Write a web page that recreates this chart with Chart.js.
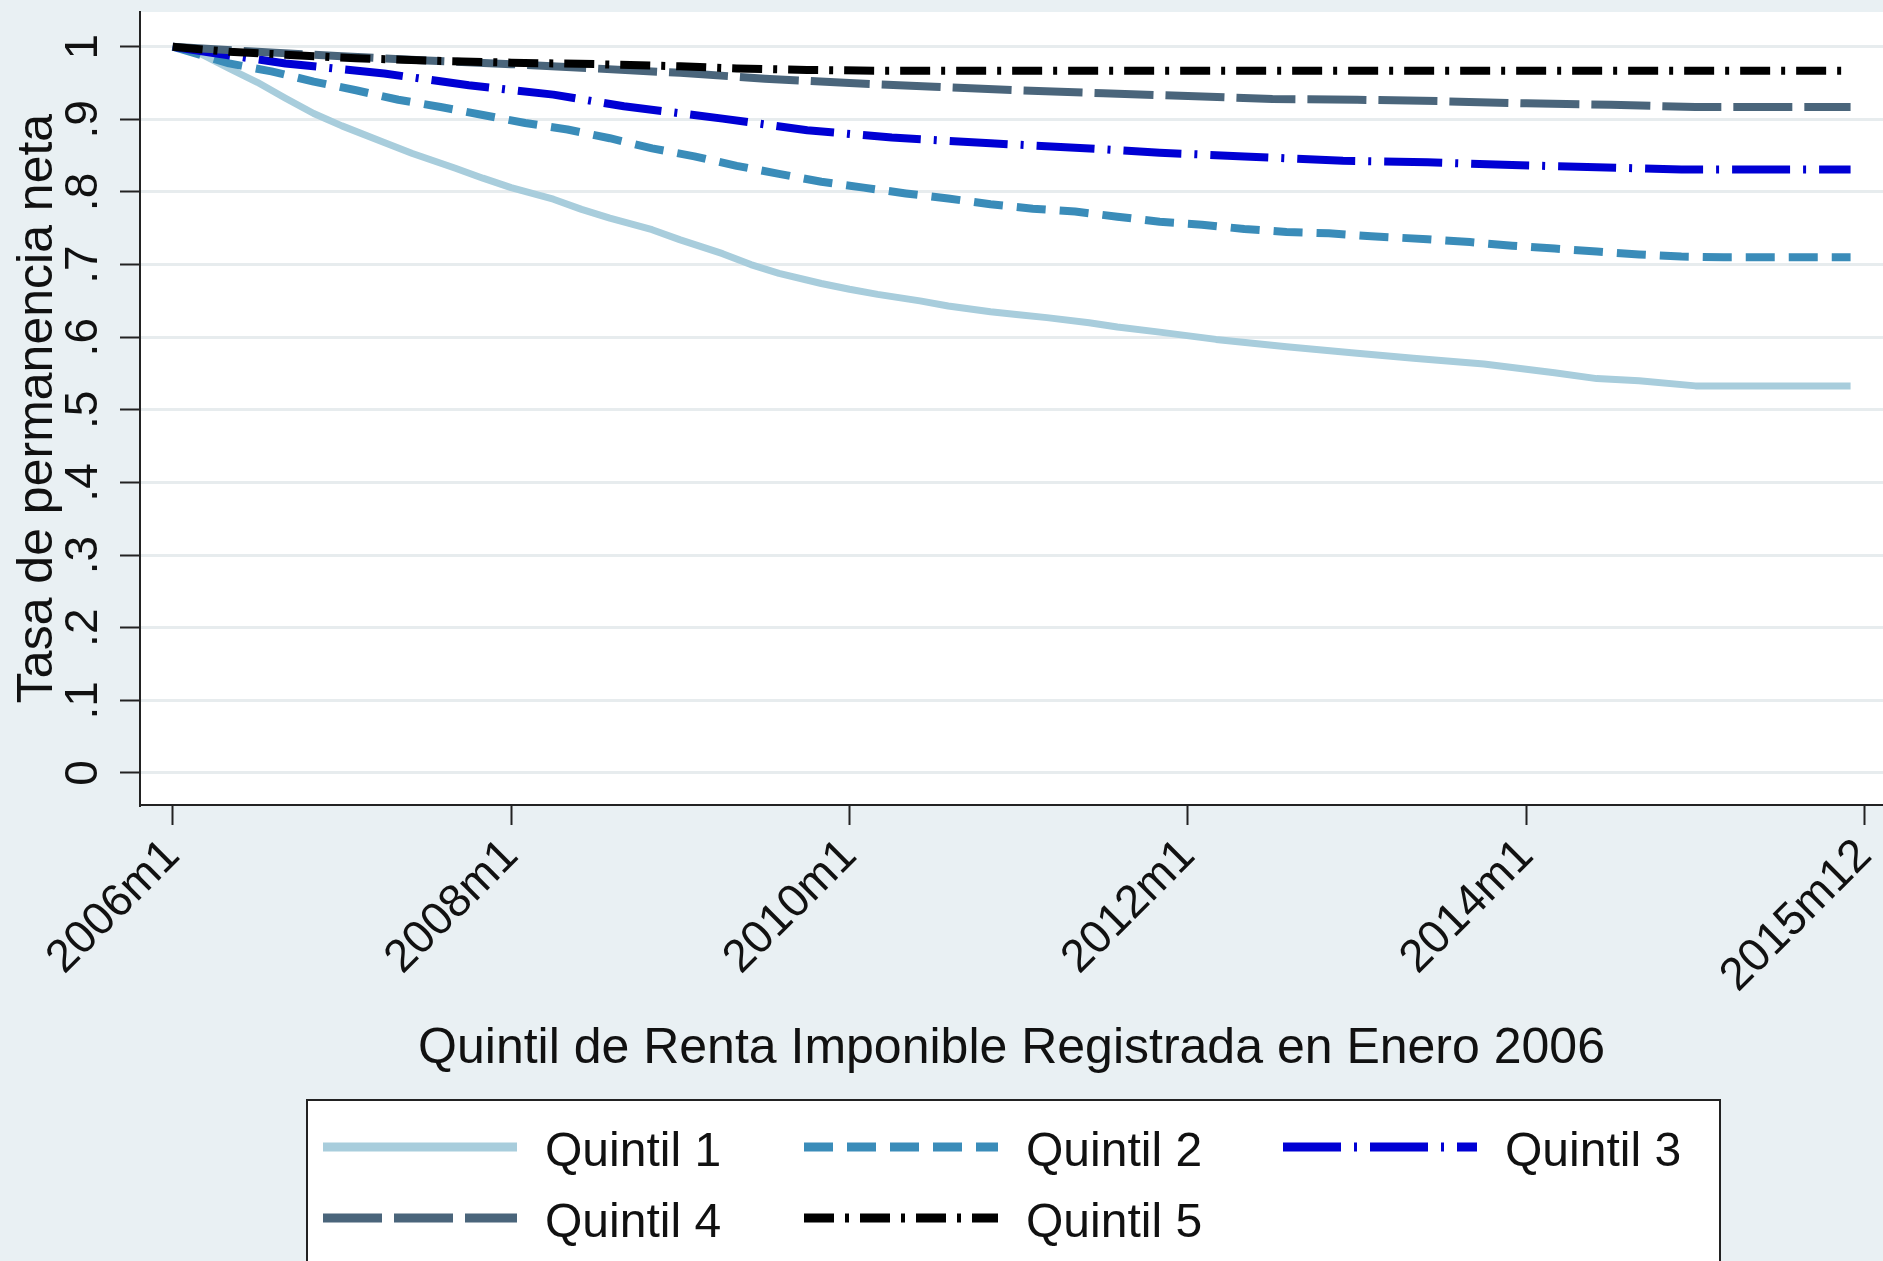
<!DOCTYPE html>
<html>
<head>
<meta charset="utf-8">
<script src="https://cdn.jsdelivr.net/npm/chart.js@4.4.1/dist/chart.umd.min.js"></script>
<style>
html,body{margin:0;padding:0;background:#e9f0f3;}
#wrap{width:1883px;height:1261px;position:relative;overflow:hidden;}
canvas{display:block;}
</style>
</head>
<body>
<div id="wrap"><canvas id="c" width="1883" height="1261"></canvas></div>
<script>
// ---- Data ----
const seriesNames = ['Quintil 1', 'Quintil 2', 'Quintil 3', 'Quintil 4', 'Quintil 5'];

// month index: 0 = 2006m1
const q1Months = [0,1,2,3,4,6,8,10,12,15,17,20,22,24,27,29,31,34,36,39,41,43,46,48,50,53,55,58,60,62,65,67,70,74,79,84,88,93,98,101,104,108,119];
const q1Values = [1.000,0.997,0.990,0.980,0.970,0.951,0.929,0.908,0.891,0.868,0.853,0.833,0.819,0.806,0.790,0.776,0.764,0.748,0.734,0.715,0.700,0.688,0.674,0.666,0.659,0.650,0.643,0.635,0.631,0.627,0.620,0.614,0.607,0.597,0.587,0.578,0.571,0.563,0.551,0.543,0.540,0.533,0.533];

const q2Months = [0,4,7,10,13,16,19,22,25,28,31,34,37,40,43,46,49,52,55,58,61,64,67,70,73,76,79,82,85,89,92,95,98,101,104,107,110,119];
const q2Values = [1.000,0.977,0.966,0.952,0.940,0.927,0.917,0.906,0.895,0.886,0.874,0.860,0.849,0.836,0.825,0.814,0.806,0.798,0.791,0.783,0.777,0.773,0.766,0.759,0.755,0.749,0.745,0.743,0.739,0.735,0.731,0.726,0.722,0.718,0.714,0.711,0.710,0.710];

const q3Months = [0,3,8,15,21,27,32,39,45,51,58,64,70,76,83,89,95,101,107,119];
const q3Values = [1.000,0.991,0.977,0.963,0.947,0.934,0.918,0.901,0.885,0.875,0.867,0.861,0.854,0.849,0.843,0.841,0.837,0.834,0.831,0.831];

const q4Months = [0,6,12,18,24,30,36,42,48,54,60,66,72,78,84,90,96,102,108,119];
const q4Values = [1.000,0.993,0.987,0.981,0.976,0.970,0.964,0.956,0.950,0.945,0.940,0.936,0.932,0.928,0.927,0.925,0.922,0.920,0.917,0.917];

const q5Months = [0,4,8,13,18,24,30,36,40,45,50,119];
const q5Values = [1.000,0.993,0.989,0.984,0.981,0.978,0.976,0.973,0.970,0.968,0.967,0.967];

const xTickMonths = [0,24,48,72,96,120];
const xTickLabels = ['2006m1','2008m1','2010m1','2012m1','2014m1','2015m12'];
const yTickValues = [0,0.1,0.2,0.3,0.4,0.5,0.6,0.7,0.8,0.9,1];
const yTickLabels = ['0','.1','.2','.3','.4','.5','.6','.7','.8','.9','1'];

const xTitle = 'Quintil de Renta Imponible Registrada en Enero 2006';
const yTitle = 'Tasa de permanencia neta';

// ---- Styles ----
const monthsList = [q1Months, q2Months, q3Months, q4Months, q5Months];
const valuesList = [q1Values, q2Values, q3Values, q4Values, q5Values];
const colors = ['#a8cddc', '#3a8cb9', '#0000d4', '#4a657b', '#000000'];
const dashes = [[], [29,14], [58,13,3,13], [59,12], [30,11,4,11]];
const widths = [7, 8, 8, 8, 8];
const FONT = "'Liberation Sans', Arial, Helvetica, sans-serif";
const TXT = '#111111';

Chart.defaults.font.family = FONT;

const datasets = seriesNames.map((name, i) => ({
  label: name,
  data: monthsList[i].map((m, j) => ({x: m, y: valuesList[i][j]})),
  borderColor: colors[i],
  backgroundColor: colors[i],
  borderWidth: widths[i],
  borderDash: dashes[i],
  borderCapStyle: 'butt',
  borderJoinStyle: 'round',
  pointRadius: 0,
  pointHoverRadius: 0,
  tension: 0,
  fill: false,
  order: 4 - i
}));

const plotBg = {
  id: 'plotBg',
  beforeDraw(chart) {
    const {ctx, chartArea: a} = chart;
    ctx.save();
    ctx.fillStyle = '#ffffff';
    ctx.fillRect(a.left, a.top, a.right - a.left, a.bottom - a.top);
    ctx.restore();
  }
};

const legendBox = {
  id: 'legendBox',
  afterDraw(chart) {
    const ctx = chart.ctx;
    const box = {x: 307, y: 1100, w: 1413, h: 200};
    const colX = [323, 804, 1283];
    const rowY = [1147, 1218];
    const sampleLen = 194;
    const textGap = 222;
    ctx.save();
    ctx.fillStyle = '#ffffff';
    ctx.fillRect(box.x, box.y, box.w, box.h);
    ctx.strokeStyle = '#222222';
    ctx.lineWidth = 2;
    ctx.strokeRect(box.x, box.y, box.w, box.h);
    chart.data.datasets.forEach((ds, i) => {
      const cx = colX[i % 3];
      const cy = rowY[Math.floor(i / 3)];
      ctx.beginPath();
      ctx.setLineDash(ds.borderDash || []);
      ctx.lineCap = 'butt';
      ctx.strokeStyle = ds.borderColor;
      ctx.lineWidth = 9;
      ctx.moveTo(cx, cy);
      ctx.lineTo(cx + sampleLen, cy);
      ctx.stroke();
      ctx.setLineDash([]);
      ctx.fillStyle = TXT;
      ctx.font = '48px ' + FONT;
      ctx.textBaseline = 'middle';
      ctx.textAlign = 'left';
      ctx.fillText(ds.label, cx + textGap, cy + 6);
    });
    ctx.restore();
  }
};

new Chart(document.getElementById('c'), {
  type: 'line',
  data: {datasets},
  plugins: [plotBg, legendBox],
  options: {
    responsive: false,
    devicePixelRatio: 1,
    animation: false,
    layout: {padding: {top: 12, left: 0, right: 0, bottom: 0}},
    plugins: {legend: {display: false}, tooltip: {enabled: false}},
    scales: {
      x: {
        type: 'linear',
        bounds: 'data',
        min: -2.32,
        max: 121.3,
        afterBuildTicks: s => { s.ticks = xTickMonths.map(v => ({value: v})); },
        afterFit: s => { s.height = 456; s.paddingLeft = 0; s.paddingRight = 0; },
        ticks: {
          autoSkip: false, minRotation: 45, maxRotation: 45, padding: 4,
          color: TXT, font: {size: 46},
          callback: (v, i) => xTickLabels[i]
        },
        grid: {drawOnChartArea: false, drawTicks: true, tickLength: 20, tickColor: '#222222', tickWidth: 2},
        border: {display: true, color: '#222222', width: 2},
        title: {display: true, text: xTitle, color: TXT, font: {size: 50}, padding: {top: 0, bottom: 182}}
      },
      y: {
        type: 'linear',
        bounds: 'data',
        min: -0.0441,
        max: 1.0478,
        afterBuildTicks: s => { s.ticks = yTickValues.map(v => ({value: v})); },
        afterFit: s => { s.width = 140; s.paddingTop = 0; s.paddingBottom = 0; },
        ticks: {
          autoSkip: false, minRotation: 90, maxRotation: 90, crossAlign: 'center', padding: 17,
          color: TXT, font: {size: 46},
          callback: (v, i) => yTickLabels[i]
        },
        grid: {color: '#e7ecee', lineWidth: 3, drawTicks: true, tickLength: 20, tickColor: '#222222', tickWidth: 2},
        border: {display: true, color: '#222222', width: 2},
        title: {display: true, text: yTitle, color: TXT, font: {size: 50}, padding: {top: 8, bottom: 0}}
      }
    }
  }
});
</script>
</body>
</html>
